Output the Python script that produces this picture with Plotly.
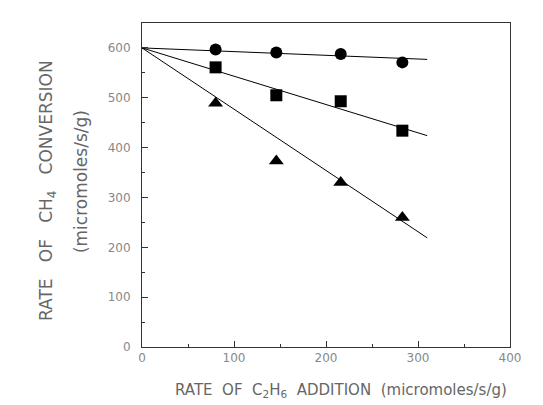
import plotly.graph_objects as go

# Data
x_add = [80, 146, 216, 283]
circle_y = [597, 591, 588, 571]
square_y = [561, 505, 493, 434]
triangle_y = [489, 373, 330, 260]

fit_x = [0, 310]
circle_fit = [600, 577]
square_fit = [600, 424]
triangle_fit = [600, 219]

x_ticks = [0, 100, 200, 300, 400]
y_ticks = [0, 100, 200, 300, 400, 500, 600]

fig = go.Figure()
for fy in (circle_fit, square_fit, triangle_fit):
    fig.add_trace(go.Scatter(x=fit_x, y=fy, mode="lines",
                             line=dict(color="black", width=1), showlegend=False,
                             hoverinfo="skip"))
for ys, sym, sz in ((circle_y, "circle", 12), (square_y, "square", 12),
                    (triangle_y, "triangle-up", 13)):
    fig.add_trace(go.Scatter(x=x_add, y=ys, mode="markers",
                             marker=dict(symbol=sym, size=sz, color="black"),
                             showlegend=False))

axis_common = dict(showline=True, linecolor="#333", linewidth=1, mirror=True,
                   ticks="inside", ticklen=6, tickcolor="#333", showgrid=False,
                   zeroline=False, tickfont=dict(family="DejaVu Sans, sans-serif",
                                                 size=12, color="#888"))
fig.update_xaxes(range=[0, 400], tickvals=x_ticks,
                 minor=dict(ticks="inside", ticklen=3, dtick=50, tickcolor="#333"),
                 **axis_common)
fig.update_yaxes(range=[0, 650], tickvals=y_ticks, ticklabelstandoff=8,
                 minor=dict(ticks="inside", ticklen=3, dtick=50, tickcolor="#333"),
                 **axis_common)

title_font = dict(family="DejaVu Sans, sans-serif", color="#666")
fig.add_annotation(text="RATE   OF   CH<sub>4</sub>   CONVERSION", xref="paper", yref="paper",
                   x=-0.2554, y=0.4815, textangle=-90, showarrow=False,
                   xanchor="center", yanchor="middle", font=dict(size=17, **title_font))
fig.add_annotation(text="(micromoles/s/g)", xref="paper", yref="paper",
                   x=-0.1658, y=0.512, textangle=-90, showarrow=False,
                   xanchor="center", yanchor="middle", font=dict(size=17, **title_font))
fig.add_annotation(text="RATE  OF  C<sub>2</sub>H<sub>6</sub>  ADDITION  (micromoles/s/g)",
                   xref="paper", yref="paper", x=0.5408, y=-0.1358, showarrow=False,
                   xanchor="center", yanchor="middle", font=dict(size=15, **title_font))

fig.update_layout(width=543, height=405, plot_bgcolor="white", paper_bgcolor="white",
                  margin=dict(l=134, r=41, t=15, b=66))
fig.write_html("out.html")
